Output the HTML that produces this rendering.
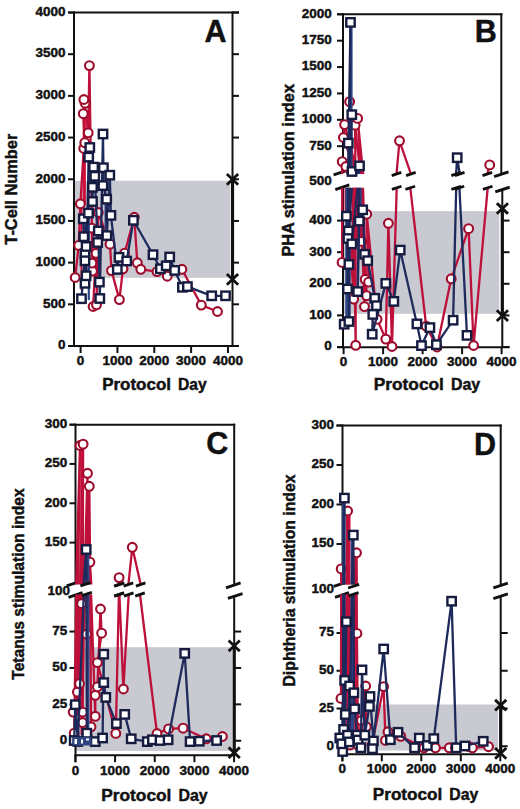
<!DOCTYPE html>
<html><head><meta charset="utf-8"><style>
html,body{margin:0;padding:0;background:#fff;width:520px;height:809px;overflow:hidden}
svg{display:block}
text{font-family:"Liberation Sans",sans-serif;font-weight:bold;fill:#111;stroke:#111;stroke-width:0.45px}
</style></head><body>
<svg width="520" height="809" viewBox="0 0 520 809">
<rect x="74.00" y="180.80" width="156.00" height="97.00" fill="#c9c9d2"/>
<rect x="343.00" y="211.10" width="156.20" height="102.70" fill="#c9c9d2"/>
<rect x="75.50" y="647.20" width="156.50" height="103.70" fill="#c9c9d2"/>
<rect x="342.50" y="704.50" width="155.50" height="46.00" fill="#c9c9d2"/>
<line x1="74.00" y1="11.50" x2="74.00" y2="347.00" stroke="#111" stroke-width="2" stroke-linecap="butt"/>
<line x1="68.00" y1="12.50" x2="239.00" y2="12.50" stroke="#111" stroke-width="2" stroke-linecap="butt"/>
<line x1="68.00" y1="346.00" x2="239.00" y2="346.00" stroke="#111" stroke-width="2" stroke-linecap="butt"/>
<line x1="232.50" y1="11.50" x2="232.50" y2="347.00" stroke="#111" stroke-width="2" stroke-linecap="butt"/>
<line x1="232.50" y1="179.40" x2="232.50" y2="279.40" stroke="#111" stroke-width="3.2" stroke-linecap="butt"/>
<line x1="68.00" y1="346.00" x2="74.00" y2="346.00" stroke="#111" stroke-width="2" stroke-linecap="butt"/>
<line x1="232.50" y1="346.00" x2="239.00" y2="346.00" stroke="#111" stroke-width="2" stroke-linecap="butt"/>
<text x="65.60" y="349.30" font-size="13.3" text-anchor="end" textLength="7.5" lengthAdjust="spacingAndGlyphs">0</text>
<line x1="68.00" y1="304.31" x2="74.00" y2="304.31" stroke="#111" stroke-width="2" stroke-linecap="butt"/>
<line x1="232.50" y1="304.31" x2="239.00" y2="304.31" stroke="#111" stroke-width="2" stroke-linecap="butt"/>
<text x="65.60" y="307.61" font-size="13.3" text-anchor="end" textLength="22.5" lengthAdjust="spacingAndGlyphs">500</text>
<line x1="68.00" y1="262.62" x2="74.00" y2="262.62" stroke="#111" stroke-width="2" stroke-linecap="butt"/>
<line x1="232.50" y1="262.62" x2="239.00" y2="262.62" stroke="#111" stroke-width="2" stroke-linecap="butt"/>
<text x="65.60" y="265.93" font-size="13.3" text-anchor="end" textLength="30.0" lengthAdjust="spacingAndGlyphs">1000</text>
<line x1="68.00" y1="220.94" x2="74.00" y2="220.94" stroke="#111" stroke-width="2" stroke-linecap="butt"/>
<line x1="232.50" y1="220.94" x2="239.00" y2="220.94" stroke="#111" stroke-width="2" stroke-linecap="butt"/>
<text x="65.60" y="224.24" font-size="13.3" text-anchor="end" textLength="30.0" lengthAdjust="spacingAndGlyphs">1500</text>
<line x1="68.00" y1="179.25" x2="74.00" y2="179.25" stroke="#111" stroke-width="2" stroke-linecap="butt"/>
<line x1="232.50" y1="179.25" x2="239.00" y2="179.25" stroke="#111" stroke-width="2" stroke-linecap="butt"/>
<text x="65.60" y="182.55" font-size="13.3" text-anchor="end" textLength="30.0" lengthAdjust="spacingAndGlyphs">2000</text>
<line x1="68.00" y1="137.56" x2="74.00" y2="137.56" stroke="#111" stroke-width="2" stroke-linecap="butt"/>
<line x1="232.50" y1="137.56" x2="239.00" y2="137.56" stroke="#111" stroke-width="2" stroke-linecap="butt"/>
<text x="65.60" y="140.86" font-size="13.3" text-anchor="end" textLength="30.0" lengthAdjust="spacingAndGlyphs">2500</text>
<line x1="68.00" y1="95.88" x2="74.00" y2="95.88" stroke="#111" stroke-width="2" stroke-linecap="butt"/>
<line x1="232.50" y1="95.88" x2="239.00" y2="95.88" stroke="#111" stroke-width="2" stroke-linecap="butt"/>
<text x="65.60" y="99.17" font-size="13.3" text-anchor="end" textLength="30.0" lengthAdjust="spacingAndGlyphs">3000</text>
<line x1="68.00" y1="54.19" x2="74.00" y2="54.19" stroke="#111" stroke-width="2" stroke-linecap="butt"/>
<line x1="232.50" y1="54.19" x2="239.00" y2="54.19" stroke="#111" stroke-width="2" stroke-linecap="butt"/>
<text x="65.60" y="57.49" font-size="13.3" text-anchor="end" textLength="30.0" lengthAdjust="spacingAndGlyphs">3500</text>
<line x1="68.00" y1="12.50" x2="74.00" y2="12.50" stroke="#111" stroke-width="2" stroke-linecap="butt"/>
<line x1="232.50" y1="12.50" x2="239.00" y2="12.50" stroke="#111" stroke-width="2" stroke-linecap="butt"/>
<text x="65.60" y="15.80" font-size="13.3" text-anchor="end" textLength="30.0" lengthAdjust="spacingAndGlyphs">4000</text>
<line x1="80.60" y1="346.00" x2="80.60" y2="353.00" stroke="#111" stroke-width="2" stroke-linecap="butt"/>
<text x="80.60" y="364.60" font-size="13.3" text-anchor="middle" textLength="7.5" lengthAdjust="spacingAndGlyphs">0</text>
<line x1="117.44" y1="346.00" x2="117.44" y2="353.00" stroke="#111" stroke-width="2" stroke-linecap="butt"/>
<text x="117.44" y="364.60" font-size="13.3" text-anchor="middle" textLength="30.0" lengthAdjust="spacingAndGlyphs">1000</text>
<line x1="154.28" y1="346.00" x2="154.28" y2="353.00" stroke="#111" stroke-width="2" stroke-linecap="butt"/>
<text x="154.28" y="364.60" font-size="13.3" text-anchor="middle" textLength="30.0" lengthAdjust="spacingAndGlyphs">2000</text>
<line x1="191.12" y1="346.00" x2="191.12" y2="353.00" stroke="#111" stroke-width="2" stroke-linecap="butt"/>
<text x="191.12" y="364.60" font-size="13.3" text-anchor="middle" textLength="30.0" lengthAdjust="spacingAndGlyphs">3000</text>
<line x1="227.96" y1="346.00" x2="227.96" y2="353.00" stroke="#111" stroke-width="2" stroke-linecap="butt"/>
<text x="227.96" y="364.60" font-size="13.3" text-anchor="middle" textLength="30.0" lengthAdjust="spacingAndGlyphs">4000</text>
<path d="M227.90 175.03L237.10 183.77M227.90 183.77L237.10 175.03" stroke="#111" stroke-width="2.8" fill="none" stroke-linecap="square"/>
<path d="M227.90 275.03L237.10 283.77M227.90 283.77L237.10 275.03" stroke="#111" stroke-width="2.8" fill="none" stroke-linecap="square"/>
<text x="102.20" y="390.40" font-size="16.3" text-anchor="start" textLength="68.8" lengthAdjust="spacingAndGlyphs">Protocol</text>
<text x="177.92" y="390.40" font-size="16.3" text-anchor="start" textLength="28.69" lengthAdjust="spacingAndGlyphs">Day</text>
<text x="17.20" y="189.20" font-size="16" text-anchor="middle" textLength="111" lengthAdjust="spacingAndGlyphs" transform="rotate(-90 17.20 189.20)">T-Cell Number</text>
<text x="215.40" y="41.60" font-size="30.5" text-anchor="middle">A</text>
<line x1="343.00" y1="13.30" x2="343.00" y2="173.00" stroke="#111" stroke-width="2" stroke-linecap="butt"/>
<line x1="343.00" y1="187.50" x2="343.00" y2="348.20" stroke="#111" stroke-width="2" stroke-linecap="butt"/>
<line x1="337.00" y1="14.30" x2="502.30" y2="14.30" stroke="#111" stroke-width="2" stroke-linecap="butt"/>
<line x1="337.00" y1="347.20" x2="509.50" y2="347.20" stroke="#111" stroke-width="2" stroke-linecap="butt"/>
<line x1="501.30" y1="13.30" x2="501.30" y2="174.20" stroke="#111" stroke-width="2" stroke-linecap="butt"/>
<line x1="502.30" y1="189.60" x2="502.30" y2="347.20" stroke="#111" stroke-width="2" stroke-linecap="butt"/>
<line x1="502.30" y1="208.50" x2="502.30" y2="315.60" stroke="#111" stroke-width="3.2" stroke-linecap="butt"/>
<line x1="337.00" y1="14.30" x2="343.00" y2="14.30" stroke="#111" stroke-width="2" stroke-linecap="butt"/>
<text x="331.80" y="17.60" font-size="13.3" text-anchor="end" textLength="30.0" lengthAdjust="spacingAndGlyphs">2000</text>
<line x1="337.00" y1="40.68" x2="343.00" y2="40.68" stroke="#111" stroke-width="2" stroke-linecap="butt"/>
<text x="331.80" y="43.98" font-size="13.3" text-anchor="end" textLength="30.0" lengthAdjust="spacingAndGlyphs">1750</text>
<line x1="337.00" y1="67.06" x2="343.00" y2="67.06" stroke="#111" stroke-width="2" stroke-linecap="butt"/>
<text x="331.80" y="70.36" font-size="13.3" text-anchor="end" textLength="30.0" lengthAdjust="spacingAndGlyphs">1500</text>
<line x1="337.00" y1="93.44" x2="343.00" y2="93.44" stroke="#111" stroke-width="2" stroke-linecap="butt"/>
<text x="331.80" y="96.74" font-size="13.3" text-anchor="end" textLength="30.0" lengthAdjust="spacingAndGlyphs">1250</text>
<line x1="337.00" y1="119.82" x2="343.00" y2="119.82" stroke="#111" stroke-width="2" stroke-linecap="butt"/>
<text x="331.80" y="123.12" font-size="13.3" text-anchor="end" textLength="30.0" lengthAdjust="spacingAndGlyphs">1000</text>
<line x1="337.00" y1="146.20" x2="343.00" y2="146.20" stroke="#111" stroke-width="2" stroke-linecap="butt"/>
<text x="331.80" y="149.50" font-size="13.3" text-anchor="end" textLength="22.5" lengthAdjust="spacingAndGlyphs">750</text>
<line x1="337.00" y1="220.60" x2="343.00" y2="220.60" stroke="#111" stroke-width="2" stroke-linecap="butt"/>
<line x1="502.30" y1="220.60" x2="509.50" y2="220.60" stroke="#111" stroke-width="2" stroke-linecap="butt"/>
<text x="331.80" y="223.90" font-size="13.3" text-anchor="end" textLength="22.5" lengthAdjust="spacingAndGlyphs">400</text>
<line x1="337.00" y1="252.20" x2="343.00" y2="252.20" stroke="#111" stroke-width="2" stroke-linecap="butt"/>
<line x1="502.30" y1="252.20" x2="509.50" y2="252.20" stroke="#111" stroke-width="2" stroke-linecap="butt"/>
<text x="331.80" y="255.50" font-size="13.3" text-anchor="end" textLength="22.5" lengthAdjust="spacingAndGlyphs">300</text>
<line x1="337.00" y1="283.80" x2="343.00" y2="283.80" stroke="#111" stroke-width="2" stroke-linecap="butt"/>
<line x1="502.30" y1="283.80" x2="509.50" y2="283.80" stroke="#111" stroke-width="2" stroke-linecap="butt"/>
<text x="331.80" y="287.10" font-size="13.3" text-anchor="end" textLength="22.5" lengthAdjust="spacingAndGlyphs">200</text>
<line x1="337.00" y1="315.40" x2="343.00" y2="315.40" stroke="#111" stroke-width="2" stroke-linecap="butt"/>
<line x1="502.30" y1="315.40" x2="509.50" y2="315.40" stroke="#111" stroke-width="2" stroke-linecap="butt"/>
<text x="331.80" y="318.70" font-size="13.3" text-anchor="end" textLength="22.5" lengthAdjust="spacingAndGlyphs">100</text>
<line x1="337.00" y1="347.00" x2="343.00" y2="347.00" stroke="#111" stroke-width="2" stroke-linecap="butt"/>
<line x1="502.30" y1="347.00" x2="509.50" y2="347.00" stroke="#111" stroke-width="2" stroke-linecap="butt"/>
<text x="331.80" y="350.30" font-size="13.3" text-anchor="end" textLength="7.5" lengthAdjust="spacingAndGlyphs">0</text>
<text x="331.80" y="184.80" font-size="13.3" text-anchor="end" textLength="22.5" lengthAdjust="spacingAndGlyphs">500</text>
<line x1="333.60" y1="174.88" x2="345.60" y2="170.92" stroke="#111" stroke-width="2.9"/>
<line x1="335.30" y1="189.61" x2="349.30" y2="184.99" stroke="#111" stroke-width="2.9"/>
<line x1="494.10" y1="176.58" x2="508.50" y2="171.82" stroke="#111" stroke-width="2.9"/>
<line x1="495.30" y1="191.98" x2="509.70" y2="187.22" stroke="#111" stroke-width="2.9"/>
<line x1="343.60" y1="347.20" x2="343.60" y2="354.20" stroke="#111" stroke-width="2" stroke-linecap="butt"/>
<text x="343.60" y="366.40" font-size="13.3" text-anchor="middle" textLength="7.5" lengthAdjust="spacingAndGlyphs">0</text>
<line x1="383.10" y1="347.20" x2="383.10" y2="354.20" stroke="#111" stroke-width="2" stroke-linecap="butt"/>
<text x="383.10" y="366.40" font-size="13.3" text-anchor="middle" textLength="30.0" lengthAdjust="spacingAndGlyphs">1000</text>
<line x1="422.60" y1="347.20" x2="422.60" y2="354.20" stroke="#111" stroke-width="2" stroke-linecap="butt"/>
<text x="422.60" y="366.40" font-size="13.3" text-anchor="middle" textLength="30.0" lengthAdjust="spacingAndGlyphs">2000</text>
<line x1="462.10" y1="347.20" x2="462.10" y2="354.20" stroke="#111" stroke-width="2" stroke-linecap="butt"/>
<text x="462.10" y="366.40" font-size="13.3" text-anchor="middle" textLength="30.0" lengthAdjust="spacingAndGlyphs">3000</text>
<line x1="501.60" y1="347.20" x2="501.60" y2="354.20" stroke="#111" stroke-width="2" stroke-linecap="butt"/>
<text x="501.60" y="366.40" font-size="13.3" text-anchor="middle" textLength="30.0" lengthAdjust="spacingAndGlyphs">4000</text>
<path d="M497.80 204.13L507.00 212.87M497.80 212.87L507.00 204.13" stroke="#111" stroke-width="2.8" fill="none" stroke-linecap="square"/>
<path d="M497.80 311.23L507.00 319.97M497.80 319.97L507.00 311.23" stroke="#111" stroke-width="2.8" fill="none" stroke-linecap="square"/>
<text x="373.80" y="390.30" font-size="16.3" text-anchor="start" textLength="70.1" lengthAdjust="spacingAndGlyphs">Protocol</text>
<text x="451.00" y="390.30" font-size="16.3" text-anchor="start" textLength="29.21" lengthAdjust="spacingAndGlyphs">Day</text>
<text x="294.20" y="170.30" font-size="16" text-anchor="middle" textLength="172.6" lengthAdjust="spacingAndGlyphs" transform="rotate(-90 294.20 170.30)">PHA stimulation index</text>
<text x="485.70" y="41.90" font-size="30.5" text-anchor="middle">B</text>
<line x1="75.50" y1="423.70" x2="75.50" y2="583.00" stroke="#111" stroke-width="2" stroke-linecap="butt"/>
<line x1="75.50" y1="595.00" x2="75.50" y2="762.20" stroke="#111" stroke-width="2" stroke-linecap="butt"/>
<line x1="69.50" y1="424.70" x2="235.20" y2="424.70" stroke="#111" stroke-width="2" stroke-linecap="butt"/>
<line x1="74.50" y1="755.20" x2="235.20" y2="755.20" stroke="#111" stroke-width="2" stroke-linecap="butt"/>
<line x1="234.20" y1="423.70" x2="234.20" y2="585.40" stroke="#111" stroke-width="2" stroke-linecap="butt"/>
<line x1="234.20" y1="596.00" x2="234.20" y2="755.20" stroke="#111" stroke-width="2" stroke-linecap="butt"/>
<line x1="234.20" y1="645.80" x2="234.20" y2="752.70" stroke="#111" stroke-width="3.2" stroke-linecap="butt"/>
<line x1="69.50" y1="424.60" x2="75.50" y2="424.60" stroke="#111" stroke-width="2" stroke-linecap="butt"/>
<text x="67.30" y="427.90" font-size="13.3" text-anchor="end" textLength="22.5" lengthAdjust="spacingAndGlyphs">300</text>
<line x1="69.50" y1="463.94" x2="75.50" y2="463.94" stroke="#111" stroke-width="2" stroke-linecap="butt"/>
<text x="67.30" y="467.24" font-size="13.3" text-anchor="end" textLength="22.5" lengthAdjust="spacingAndGlyphs">250</text>
<line x1="69.50" y1="503.27" x2="75.50" y2="503.27" stroke="#111" stroke-width="2" stroke-linecap="butt"/>
<text x="67.30" y="506.57" font-size="13.3" text-anchor="end" textLength="22.5" lengthAdjust="spacingAndGlyphs">200</text>
<line x1="69.50" y1="542.61" x2="75.50" y2="542.61" stroke="#111" stroke-width="2" stroke-linecap="butt"/>
<text x="67.30" y="545.90" font-size="13.3" text-anchor="end" textLength="22.5" lengthAdjust="spacingAndGlyphs">150</text>
<line x1="69.50" y1="631.55" x2="75.50" y2="631.55" stroke="#111" stroke-width="2" stroke-linecap="butt"/>
<line x1="234.20" y1="631.55" x2="241.20" y2="631.55" stroke="#111" stroke-width="2" stroke-linecap="butt"/>
<text x="67.30" y="634.85" font-size="13.3" text-anchor="end" textLength="15.0" lengthAdjust="spacingAndGlyphs">75</text>
<line x1="69.50" y1="667.95" x2="75.50" y2="667.95" stroke="#111" stroke-width="2" stroke-linecap="butt"/>
<line x1="234.20" y1="667.95" x2="241.20" y2="667.95" stroke="#111" stroke-width="2" stroke-linecap="butt"/>
<text x="67.30" y="671.25" font-size="13.3" text-anchor="end" textLength="15.0" lengthAdjust="spacingAndGlyphs">50</text>
<line x1="69.50" y1="704.35" x2="75.50" y2="704.35" stroke="#111" stroke-width="2" stroke-linecap="butt"/>
<line x1="234.20" y1="704.35" x2="241.20" y2="704.35" stroke="#111" stroke-width="2" stroke-linecap="butt"/>
<text x="67.30" y="707.65" font-size="13.3" text-anchor="end" textLength="15.0" lengthAdjust="spacingAndGlyphs">25</text>
<line x1="69.50" y1="740.75" x2="75.50" y2="740.75" stroke="#111" stroke-width="2" stroke-linecap="butt"/>
<line x1="234.20" y1="740.75" x2="241.20" y2="740.75" stroke="#111" stroke-width="2" stroke-linecap="butt"/>
<text x="67.30" y="744.05" font-size="13.3" text-anchor="end" textLength="7.5" lengthAdjust="spacingAndGlyphs">0</text>
<text x="69.90" y="594.80" font-size="13.3" text-anchor="end" textLength="22.5" lengthAdjust="spacingAndGlyphs">100</text>
<line x1="66.70" y1="585.78" x2="78.70" y2="581.82" stroke="#111" stroke-width="2.9"/>
<line x1="68.50" y1="597.31" x2="82.50" y2="592.69" stroke="#111" stroke-width="2.9"/>
<line x1="226.00" y1="587.81" x2="240.60" y2="582.99" stroke="#111" stroke-width="2.9"/>
<line x1="227.90" y1="598.41" x2="242.50" y2="593.59" stroke="#111" stroke-width="2.9"/>
<line x1="75.40" y1="755.20" x2="75.40" y2="762.20" stroke="#111" stroke-width="2" stroke-linecap="butt"/>
<text x="75.40" y="774.60" font-size="13.3" text-anchor="middle" textLength="7.5" lengthAdjust="spacingAndGlyphs">0</text>
<line x1="115.07" y1="755.20" x2="115.07" y2="762.20" stroke="#111" stroke-width="2" stroke-linecap="butt"/>
<text x="115.07" y="774.60" font-size="13.3" text-anchor="middle" textLength="30.0" lengthAdjust="spacingAndGlyphs">1000</text>
<line x1="154.74" y1="755.20" x2="154.74" y2="762.20" stroke="#111" stroke-width="2" stroke-linecap="butt"/>
<text x="154.74" y="774.60" font-size="13.3" text-anchor="middle" textLength="30.0" lengthAdjust="spacingAndGlyphs">2000</text>
<line x1="194.41" y1="755.20" x2="194.41" y2="762.20" stroke="#111" stroke-width="2" stroke-linecap="butt"/>
<text x="194.41" y="774.60" font-size="13.3" text-anchor="middle" textLength="30.0" lengthAdjust="spacingAndGlyphs">3000</text>
<line x1="234.08" y1="755.20" x2="234.08" y2="762.20" stroke="#111" stroke-width="2" stroke-linecap="butt"/>
<text x="234.08" y="774.60" font-size="13.3" text-anchor="middle" textLength="30.0" lengthAdjust="spacingAndGlyphs">4000</text>
<path d="M229.60 641.43L238.80 650.17M229.60 650.17L238.80 641.43" stroke="#111" stroke-width="2.8" fill="none" stroke-linecap="square"/>
<path d="M229.60 748.33L238.80 757.07M229.60 757.07L238.80 748.33" stroke="#111" stroke-width="2.8" fill="none" stroke-linecap="square"/>
<text x="101.30" y="801.30" font-size="16.3" text-anchor="start" textLength="70.1" lengthAdjust="spacingAndGlyphs">Protocol</text>
<text x="178.50" y="801.30" font-size="16.3" text-anchor="start" textLength="29.21" lengthAdjust="spacingAndGlyphs">Day</text>
<text x="23.60" y="584.00" font-size="16" text-anchor="middle" textLength="191.4" lengthAdjust="spacingAndGlyphs" transform="rotate(-90 23.60 584.00)">Tetanus stimulation index</text>
<text x="217.20" y="454.30" font-size="30.5" text-anchor="middle">C</text>
<line x1="342.50" y1="424.50" x2="342.50" y2="583.50" stroke="#111" stroke-width="2" stroke-linecap="butt"/>
<line x1="342.50" y1="595.00" x2="342.50" y2="761.30" stroke="#111" stroke-width="2" stroke-linecap="butt"/>
<line x1="336.50" y1="425.50" x2="501.70" y2="425.50" stroke="#111" stroke-width="2" stroke-linecap="butt"/>
<line x1="341.50" y1="754.30" x2="501.70" y2="754.30" stroke="#111" stroke-width="2" stroke-linecap="butt"/>
<line x1="500.70" y1="424.50" x2="500.70" y2="585.40" stroke="#111" stroke-width="2" stroke-linecap="butt"/>
<line x1="500.70" y1="596.30" x2="500.70" y2="754.30" stroke="#111" stroke-width="2" stroke-linecap="butt"/>
<line x1="500.70" y1="705.20" x2="500.70" y2="753.30" stroke="#111" stroke-width="3.2" stroke-linecap="butt"/>
<line x1="336.50" y1="425.50" x2="342.50" y2="425.50" stroke="#111" stroke-width="2" stroke-linecap="butt"/>
<text x="334.10" y="428.80" font-size="13.3" text-anchor="end" textLength="22.5" lengthAdjust="spacingAndGlyphs">300</text>
<line x1="336.50" y1="465.00" x2="342.50" y2="465.00" stroke="#111" stroke-width="2" stroke-linecap="butt"/>
<text x="334.10" y="468.30" font-size="13.3" text-anchor="end" textLength="22.5" lengthAdjust="spacingAndGlyphs">250</text>
<line x1="336.50" y1="504.50" x2="342.50" y2="504.50" stroke="#111" stroke-width="2" stroke-linecap="butt"/>
<text x="334.10" y="507.80" font-size="13.3" text-anchor="end" textLength="22.5" lengthAdjust="spacingAndGlyphs">200</text>
<line x1="336.50" y1="544.00" x2="342.50" y2="544.00" stroke="#111" stroke-width="2" stroke-linecap="butt"/>
<text x="334.10" y="547.30" font-size="13.3" text-anchor="end" textLength="22.5" lengthAdjust="spacingAndGlyphs">150</text>
<line x1="336.50" y1="633.00" x2="342.50" y2="633.00" stroke="#111" stroke-width="2" stroke-linecap="butt"/>
<line x1="500.70" y1="633.00" x2="507.70" y2="633.00" stroke="#111" stroke-width="2" stroke-linecap="butt"/>
<text x="334.10" y="636.30" font-size="13.3" text-anchor="end" textLength="15.0" lengthAdjust="spacingAndGlyphs">75</text>
<line x1="336.50" y1="670.75" x2="342.50" y2="670.75" stroke="#111" stroke-width="2" stroke-linecap="butt"/>
<line x1="500.70" y1="670.75" x2="507.70" y2="670.75" stroke="#111" stroke-width="2" stroke-linecap="butt"/>
<text x="334.10" y="674.05" font-size="13.3" text-anchor="end" textLength="15.0" lengthAdjust="spacingAndGlyphs">50</text>
<line x1="336.50" y1="708.50" x2="342.50" y2="708.50" stroke="#111" stroke-width="2" stroke-linecap="butt"/>
<line x1="500.70" y1="708.50" x2="507.70" y2="708.50" stroke="#111" stroke-width="2" stroke-linecap="butt"/>
<text x="334.10" y="711.80" font-size="13.3" text-anchor="end" textLength="15.0" lengthAdjust="spacingAndGlyphs">25</text>
<line x1="336.50" y1="746.25" x2="342.50" y2="746.25" stroke="#111" stroke-width="2" stroke-linecap="butt"/>
<line x1="500.70" y1="746.25" x2="507.70" y2="746.25" stroke="#111" stroke-width="2" stroke-linecap="butt"/>
<text x="334.10" y="749.55" font-size="13.3" text-anchor="end" textLength="7.5" lengthAdjust="spacingAndGlyphs">0</text>
<text x="334.10" y="593.10" font-size="13.3" text-anchor="end" textLength="22.5" lengthAdjust="spacingAndGlyphs">100</text>
<line x1="333.70" y1="586.35" x2="346.70" y2="582.06" stroke="#111" stroke-width="2.9"/>
<line x1="335.00" y1="597.31" x2="349.00" y2="592.69" stroke="#111" stroke-width="2.9"/>
<line x1="493.35" y1="587.79" x2="507.85" y2="583.01" stroke="#111" stroke-width="2.9"/>
<line x1="493.35" y1="598.69" x2="507.85" y2="593.91" stroke="#111" stroke-width="2.9"/>
<line x1="342.30" y1="754.30" x2="342.30" y2="761.30" stroke="#111" stroke-width="2" stroke-linecap="butt"/>
<text x="342.30" y="773.30" font-size="13.3" text-anchor="middle" textLength="7.5" lengthAdjust="spacingAndGlyphs">0</text>
<line x1="381.80" y1="754.30" x2="381.80" y2="761.30" stroke="#111" stroke-width="2" stroke-linecap="butt"/>
<text x="381.80" y="773.30" font-size="13.3" text-anchor="middle" textLength="30.0" lengthAdjust="spacingAndGlyphs">1000</text>
<line x1="421.30" y1="754.30" x2="421.30" y2="761.30" stroke="#111" stroke-width="2" stroke-linecap="butt"/>
<text x="421.30" y="773.30" font-size="13.3" text-anchor="middle" textLength="30.0" lengthAdjust="spacingAndGlyphs">2000</text>
<line x1="460.80" y1="754.30" x2="460.80" y2="761.30" stroke="#111" stroke-width="2" stroke-linecap="butt"/>
<text x="460.80" y="773.30" font-size="13.3" text-anchor="middle" textLength="30.0" lengthAdjust="spacingAndGlyphs">3000</text>
<line x1="500.30" y1="754.30" x2="500.30" y2="761.30" stroke="#111" stroke-width="2" stroke-linecap="butt"/>
<text x="500.30" y="773.30" font-size="13.3" text-anchor="middle" textLength="30.0" lengthAdjust="spacingAndGlyphs">4000</text>
<path d="M496.10 700.83L505.30 709.57M496.10 709.57L505.30 700.83" stroke="#111" stroke-width="2.8" fill="none" stroke-linecap="square"/>
<path d="M496.10 748.93L505.30 757.67M496.10 757.67L505.30 748.93" stroke="#111" stroke-width="2.8" fill="none" stroke-linecap="square"/>
<text x="372.80" y="799.50" font-size="16.3" text-anchor="start" textLength="69.52" lengthAdjust="spacingAndGlyphs">Protocol</text>
<text x="449.33" y="799.50" font-size="16.3" text-anchor="start" textLength="28.98" lengthAdjust="spacingAndGlyphs">Day</text>
<text x="295.20" y="580.50" font-size="16" text-anchor="middle" textLength="212" lengthAdjust="spacingAndGlyphs" transform="rotate(-90 295.20 580.50)">Diphtheria stimulation index</text>
<text x="484.90" y="454.90" font-size="30.5" text-anchor="middle">D</text>
<path d="M84.3 104V205" fill="none" stroke="#d2103f" stroke-width="3.2"/>
<path d="M81.5 205V290" fill="none" stroke="#d2103f" stroke-width="2"/>
<path d="M75.2 277.5L78.7 245.4L80.4 203.8L83.8 148.4L84.8 142.7L83.3 113.7L85.1 103.2L83.9 99.5L88.2 132.8L89.4 65.6L91.9 228.1L92.5 271.1L91.9 263.1L96.0 253.3L93.1 306.5L96.5 304.8L98.3 212.5L110.0 244.2L111.5 270.6L119.4 299.6L123.0 268.8L124.6 253.1L134.3 217.3L137.3 262.8L140.8 269.3L157.0 271.6L167.3 276.2L181.9 269.3L201.3 305.1L217.5 311.5" fill="none" stroke="#bd103a" stroke-width="2.3" stroke-linejoin="round"/>
<circle cx="75.2" cy="277.5" r="4.4" fill="#fff" stroke="#9e0c2c" stroke-width="2.1"/>
<circle cx="78.7" cy="245.4" r="4.4" fill="#fff" stroke="#9e0c2c" stroke-width="2.1"/>
<circle cx="80.4" cy="203.8" r="4.4" fill="#fff" stroke="#9e0c2c" stroke-width="2.1"/>
<circle cx="83.8" cy="148.4" r="4.4" fill="#fff" stroke="#9e0c2c" stroke-width="2.1"/>
<circle cx="84.8" cy="142.7" r="4.4" fill="#fff" stroke="#9e0c2c" stroke-width="2.1"/>
<circle cx="83.3" cy="113.7" r="4.4" fill="#fff" stroke="#9e0c2c" stroke-width="2.1"/>
<circle cx="85.1" cy="103.2" r="4.4" fill="#fff" stroke="#9e0c2c" stroke-width="2.1"/>
<circle cx="83.9" cy="99.5" r="4.4" fill="#fff" stroke="#9e0c2c" stroke-width="2.1"/>
<circle cx="88.2" cy="132.8" r="4.4" fill="#fff" stroke="#9e0c2c" stroke-width="2.1"/>
<circle cx="89.4" cy="65.6" r="4.4" fill="#fff" stroke="#9e0c2c" stroke-width="2.1"/>
<circle cx="91.9" cy="228.1" r="4.4" fill="#fff" stroke="#9e0c2c" stroke-width="2.1"/>
<circle cx="92.5" cy="271.1" r="4.4" fill="#fff" stroke="#9e0c2c" stroke-width="2.1"/>
<circle cx="91.9" cy="263.1" r="4.4" fill="#fff" stroke="#9e0c2c" stroke-width="2.1"/>
<circle cx="96.0" cy="253.3" r="4.4" fill="#fff" stroke="#9e0c2c" stroke-width="2.1"/>
<circle cx="93.1" cy="306.5" r="4.4" fill="#fff" stroke="#9e0c2c" stroke-width="2.1"/>
<circle cx="96.5" cy="304.8" r="4.4" fill="#fff" stroke="#9e0c2c" stroke-width="2.1"/>
<circle cx="98.3" cy="212.5" r="4.4" fill="#fff" stroke="#9e0c2c" stroke-width="2.1"/>
<circle cx="110.0" cy="244.2" r="4.4" fill="#fff" stroke="#9e0c2c" stroke-width="2.1"/>
<circle cx="111.5" cy="270.6" r="4.4" fill="#fff" stroke="#9e0c2c" stroke-width="2.1"/>
<circle cx="119.4" cy="299.6" r="4.4" fill="#fff" stroke="#9e0c2c" stroke-width="2.1"/>
<circle cx="123.0" cy="268.8" r="4.4" fill="#fff" stroke="#9e0c2c" stroke-width="2.1"/>
<circle cx="124.6" cy="253.1" r="4.4" fill="#fff" stroke="#9e0c2c" stroke-width="2.1"/>
<circle cx="134.3" cy="217.3" r="4.4" fill="#fff" stroke="#9e0c2c" stroke-width="2.1"/>
<circle cx="137.3" cy="262.8" r="4.4" fill="#fff" stroke="#9e0c2c" stroke-width="2.1"/>
<circle cx="140.8" cy="269.3" r="4.4" fill="#fff" stroke="#9e0c2c" stroke-width="2.1"/>
<circle cx="157.0" cy="271.6" r="4.4" fill="#fff" stroke="#9e0c2c" stroke-width="2.1"/>
<circle cx="167.3" cy="276.2" r="4.4" fill="#fff" stroke="#9e0c2c" stroke-width="2.1"/>
<circle cx="181.9" cy="269.3" r="4.4" fill="#fff" stroke="#9e0c2c" stroke-width="2.1"/>
<circle cx="201.3" cy="305.1" r="4.4" fill="#fff" stroke="#9e0c2c" stroke-width="2.1"/>
<circle cx="217.5" cy="311.5" r="4.4" fill="#fff" stroke="#9e0c2c" stroke-width="2.1"/>
<path d="M88.8 150V300" fill="none" stroke="#2f4686" stroke-width="2.2"/>
<path d="M105.5 170V240" fill="none" stroke="#2f4686" stroke-width="2"/>
<path d="M81.5 298.7L85.0 253.8L83.3 218.8L85.0 283.3L86.1 246.5L88.5 213.1L83.8 236.7L85.0 260.8L86.1 275.8L88.7 157.1L89.8 147.5L92.5 201.5L93.6 167.1L92.5 187.3L94.8 176.3L97.7 242.5L98.3 231.0L99.4 282.1L99.8 298.5L103.0 134.0L103.4 167.7L102.9 185.6L106.7 199.2L106.9 235.6L109.8 175.2L110.9 215.4L117.3 269.4L119.0 257.3L126.7 261.0L133.4 220.3L153.0 254.7L160.4 268.8L166.2 265.8L169.7 257.0L174.7 270.4L182.4 287.3L187.4 286.6L211.7 295.8L225.5 295.8" fill="none" stroke="#1e2a5c" stroke-width="2.3" stroke-linejoin="round"/>
<rect x="77.3" y="294.5" width="8.4" height="8.4" fill="#fff" stroke="#161c40" stroke-width="2.4"/>
<rect x="80.8" y="249.6" width="8.4" height="8.4" fill="#fff" stroke="#161c40" stroke-width="2.4"/>
<rect x="79.1" y="214.6" width="8.4" height="8.4" fill="#fff" stroke="#161c40" stroke-width="2.4"/>
<rect x="80.8" y="279.1" width="8.4" height="8.4" fill="#fff" stroke="#161c40" stroke-width="2.4"/>
<rect x="81.9" y="242.3" width="8.4" height="8.4" fill="#fff" stroke="#161c40" stroke-width="2.4"/>
<rect x="84.3" y="208.9" width="8.4" height="8.4" fill="#fff" stroke="#161c40" stroke-width="2.4"/>
<rect x="79.6" y="232.5" width="8.4" height="8.4" fill="#fff" stroke="#161c40" stroke-width="2.4"/>
<rect x="80.8" y="256.6" width="8.4" height="8.4" fill="#fff" stroke="#161c40" stroke-width="2.4"/>
<rect x="81.9" y="271.6" width="8.4" height="8.4" fill="#fff" stroke="#161c40" stroke-width="2.4"/>
<rect x="84.5" y="152.9" width="8.4" height="8.4" fill="#fff" stroke="#161c40" stroke-width="2.4"/>
<rect x="85.6" y="143.3" width="8.4" height="8.4" fill="#fff" stroke="#161c40" stroke-width="2.4"/>
<rect x="88.3" y="197.3" width="8.4" height="8.4" fill="#fff" stroke="#161c40" stroke-width="2.4"/>
<rect x="89.4" y="162.9" width="8.4" height="8.4" fill="#fff" stroke="#161c40" stroke-width="2.4"/>
<rect x="88.3" y="183.1" width="8.4" height="8.4" fill="#fff" stroke="#161c40" stroke-width="2.4"/>
<rect x="90.6" y="172.1" width="8.4" height="8.4" fill="#fff" stroke="#161c40" stroke-width="2.4"/>
<rect x="93.5" y="238.3" width="8.4" height="8.4" fill="#fff" stroke="#161c40" stroke-width="2.4"/>
<rect x="94.1" y="226.8" width="8.4" height="8.4" fill="#fff" stroke="#161c40" stroke-width="2.4"/>
<rect x="95.2" y="277.9" width="8.4" height="8.4" fill="#fff" stroke="#161c40" stroke-width="2.4"/>
<rect x="95.6" y="294.3" width="8.4" height="8.4" fill="#fff" stroke="#161c40" stroke-width="2.4"/>
<rect x="98.8" y="129.8" width="8.4" height="8.4" fill="#fff" stroke="#161c40" stroke-width="2.4"/>
<rect x="99.2" y="163.5" width="8.4" height="8.4" fill="#fff" stroke="#161c40" stroke-width="2.4"/>
<rect x="98.7" y="181.4" width="8.4" height="8.4" fill="#fff" stroke="#161c40" stroke-width="2.4"/>
<rect x="102.5" y="195.0" width="8.4" height="8.4" fill="#fff" stroke="#161c40" stroke-width="2.4"/>
<rect x="102.7" y="231.4" width="8.4" height="8.4" fill="#fff" stroke="#161c40" stroke-width="2.4"/>
<rect x="105.6" y="171.0" width="8.4" height="8.4" fill="#fff" stroke="#161c40" stroke-width="2.4"/>
<rect x="106.7" y="211.2" width="8.4" height="8.4" fill="#fff" stroke="#161c40" stroke-width="2.4"/>
<rect x="113.1" y="265.2" width="8.4" height="8.4" fill="#fff" stroke="#161c40" stroke-width="2.4"/>
<rect x="114.8" y="253.1" width="8.4" height="8.4" fill="#fff" stroke="#161c40" stroke-width="2.4"/>
<rect x="122.5" y="256.8" width="8.4" height="8.4" fill="#fff" stroke="#161c40" stroke-width="2.4"/>
<rect x="129.2" y="216.1" width="8.4" height="8.4" fill="#fff" stroke="#161c40" stroke-width="2.4"/>
<rect x="148.8" y="250.5" width="8.4" height="8.4" fill="#fff" stroke="#161c40" stroke-width="2.4"/>
<rect x="156.2" y="264.6" width="8.4" height="8.4" fill="#fff" stroke="#161c40" stroke-width="2.4"/>
<rect x="162.0" y="261.6" width="8.4" height="8.4" fill="#fff" stroke="#161c40" stroke-width="2.4"/>
<rect x="165.5" y="252.8" width="8.4" height="8.4" fill="#fff" stroke="#161c40" stroke-width="2.4"/>
<rect x="170.5" y="266.2" width="8.4" height="8.4" fill="#fff" stroke="#161c40" stroke-width="2.4"/>
<rect x="178.2" y="283.1" width="8.4" height="8.4" fill="#fff" stroke="#161c40" stroke-width="2.4"/>
<rect x="183.2" y="282.4" width="8.4" height="8.4" fill="#fff" stroke="#161c40" stroke-width="2.4"/>
<rect x="207.5" y="291.6" width="8.4" height="8.4" fill="#fff" stroke="#161c40" stroke-width="2.4"/>
<rect x="221.3" y="291.6" width="8.4" height="8.4" fill="#fff" stroke="#161c40" stroke-width="2.4"/>
<path d="M353.7 187.8V300" fill="none" stroke="#d2103f" stroke-width="3"/>
<path d="M357 187.8V240" fill="none" stroke="#d2103f" stroke-width="2.5"/>
<path d="M345.5 187.8V215" fill="none" stroke="#d2103f" stroke-width="2"/>
<path d="M342.1 262.4L342.2 187.8M342.2 174.0L342.2 161.6L345.9 166.5L347.3 174.0M346.9 187.8L353.7 299.1L352.3 187.8M352.4 174.0L349.6 101.7L353.2 174.0M353.1 187.8L355.7 345.3L355.4 187.8M355.4 174.0L355.1 125.2L360.4 174.0M360.2 187.8L364.5 306.6L361.6 187.8M361.7 174.0L357.6 118.4L363.2 174.0M363.0 187.8L366.6 295.7L357.1 187.8M357.6 174.0L344.6 124.6L343.4 137.5L356.1 174.0M355.5 187.8L361.7 241.4L365.2 279.4L368.6 282.1L366.7 214.2L377.1 319.3L385.8 339.1L388.4 223.3L392.0 346.5L396.7 187.8M396.5 174.0L399.5 140.8L410.9 174.0M410.3 187.8L426.2 326.2L437.0 347.0L451.2 278.8L468.6 228.7L473.6 345.5L487.7 187.8M487.3 174.0L489.7 164.9" fill="none" stroke="#bd103a" stroke-width="2.3" stroke-linejoin="round"/>
<line x1="391.7" y1="175.6" x2="401.3" y2="172.4" stroke="#111" stroke-width="2.7"/>
<line x1="391.9" y1="189.4" x2="401.5" y2="186.2" stroke="#111" stroke-width="2.7"/>
<line x1="406.1" y1="175.6" x2="415.7" y2="172.4" stroke="#111" stroke-width="2.7"/>
<line x1="405.5" y1="189.4" x2="415.1" y2="186.2" stroke="#111" stroke-width="2.7"/>
<line x1="482.5" y1="175.6" x2="492.1" y2="172.4" stroke="#111" stroke-width="2.7"/>
<line x1="482.9" y1="189.4" x2="492.5" y2="186.2" stroke="#111" stroke-width="2.7"/>
<circle cx="342.1" cy="262.4" r="4.4" fill="#fff" stroke="#9e0c2c" stroke-width="2.1"/>
<circle cx="342.2" cy="161.6" r="4.4" fill="#fff" stroke="#9e0c2c" stroke-width="2.1"/>
<circle cx="345.9" cy="166.5" r="4.4" fill="#fff" stroke="#9e0c2c" stroke-width="2.1"/>
<circle cx="353.7" cy="299.1" r="4.4" fill="#fff" stroke="#9e0c2c" stroke-width="2.1"/>
<circle cx="349.6" cy="101.7" r="4.4" fill="#fff" stroke="#9e0c2c" stroke-width="2.1"/>
<circle cx="355.7" cy="345.3" r="4.4" fill="#fff" stroke="#9e0c2c" stroke-width="2.1"/>
<circle cx="355.1" cy="125.2" r="4.4" fill="#fff" stroke="#9e0c2c" stroke-width="2.1"/>
<circle cx="364.5" cy="306.6" r="4.4" fill="#fff" stroke="#9e0c2c" stroke-width="2.1"/>
<circle cx="357.6" cy="118.4" r="4.4" fill="#fff" stroke="#9e0c2c" stroke-width="2.1"/>
<circle cx="366.6" cy="295.7" r="4.4" fill="#fff" stroke="#9e0c2c" stroke-width="2.1"/>
<circle cx="344.6" cy="124.6" r="4.4" fill="#fff" stroke="#9e0c2c" stroke-width="2.1"/>
<circle cx="343.4" cy="137.5" r="4.4" fill="#fff" stroke="#9e0c2c" stroke-width="2.1"/>
<circle cx="361.7" cy="241.4" r="4.4" fill="#fff" stroke="#9e0c2c" stroke-width="2.1"/>
<circle cx="365.2" cy="279.4" r="4.4" fill="#fff" stroke="#9e0c2c" stroke-width="2.1"/>
<circle cx="368.6" cy="282.1" r="4.4" fill="#fff" stroke="#9e0c2c" stroke-width="2.1"/>
<circle cx="366.7" cy="214.2" r="4.4" fill="#fff" stroke="#9e0c2c" stroke-width="2.1"/>
<circle cx="377.1" cy="319.3" r="4.4" fill="#fff" stroke="#9e0c2c" stroke-width="2.1"/>
<circle cx="385.8" cy="339.1" r="4.4" fill="#fff" stroke="#9e0c2c" stroke-width="2.1"/>
<circle cx="388.4" cy="223.3" r="4.4" fill="#fff" stroke="#9e0c2c" stroke-width="2.1"/>
<circle cx="392.0" cy="346.5" r="4.4" fill="#fff" stroke="#9e0c2c" stroke-width="2.1"/>
<circle cx="399.5" cy="140.8" r="4.4" fill="#fff" stroke="#9e0c2c" stroke-width="2.1"/>
<circle cx="426.2" cy="326.2" r="4.4" fill="#fff" stroke="#9e0c2c" stroke-width="2.1"/>
<circle cx="437.0" cy="347.0" r="4.4" fill="#fff" stroke="#9e0c2c" stroke-width="2.1"/>
<circle cx="451.2" cy="278.8" r="4.4" fill="#fff" stroke="#9e0c2c" stroke-width="2.1"/>
<circle cx="468.6" cy="228.7" r="4.4" fill="#fff" stroke="#9e0c2c" stroke-width="2.1"/>
<circle cx="473.6" cy="345.5" r="4.4" fill="#fff" stroke="#9e0c2c" stroke-width="2.1"/>
<circle cx="489.7" cy="164.9" r="4.4" fill="#fff" stroke="#9e0c2c" stroke-width="2.1"/>
<path d="M348 187.8V325" fill="none" stroke="#2f4686" stroke-width="5.5"/>
<path d="M360.5 187.8V215" fill="none" stroke="#2f4686" stroke-width="2.5"/>
<path d="M350.8 27V174" fill="none" stroke="#2f4686" stroke-width="3.6"/>
<path d="M344.2 324.2L348.9 321.5L349.3 187.8M349.3 174.0L350.5 22.4L348.0 174.0M348.1 187.8L347.5 289.0L349.1 187.8M349.0 174.0L351.8 114.7L349.7 174.0M349.8 187.8L348.9 264.5L348.6 187.8M348.6 174.0L348.3 143.1L348.4 174.0M348.4 187.8L348.4 231.0L351.8 187.8M351.4 174.0L352.0 171.5L351.4 174.0M351.8 187.8L347.9 238.5L346.4 216.2L351.8 243.9L357.6 187.8M357.0 174.0L359.5 165.9L359.1 174.0M359.2 187.8L357.7 291.6L359.3 221.1L362.7 209.8L364.7 254.3L367.7 260.7L374.7 298.3L376.5 305.7L372.8 314.4L372.2 334.2L385.8 283.4L393.8 301.4L400.2 250.1L416.9 323.9L421.5 345.6L429.9 327.6L436.4 344.7L453.1 320.2L456.2 187.8M456.1 174.0L457.2 157.7L459.7 174.0M459.4 187.8L467.0 335.4" fill="none" stroke="#1e2a5c" stroke-width="2.3" stroke-linejoin="round"/>
<line x1="451.3" y1="175.6" x2="460.9" y2="172.4" stroke="#111" stroke-width="2.7"/>
<line x1="451.4" y1="189.4" x2="461.0" y2="186.2" stroke="#111" stroke-width="2.7"/>
<line x1="454.9" y1="175.6" x2="464.5" y2="172.4" stroke="#111" stroke-width="2.7"/>
<line x1="454.6" y1="189.4" x2="464.2" y2="186.2" stroke="#111" stroke-width="2.7"/>
<rect x="340.0" y="320.0" width="8.4" height="8.4" fill="#fff" stroke="#161c40" stroke-width="2.4"/>
<rect x="344.7" y="317.3" width="8.4" height="8.4" fill="#fff" stroke="#161c40" stroke-width="2.4"/>
<rect x="346.3" y="18.2" width="8.4" height="8.4" fill="#fff" stroke="#161c40" stroke-width="2.4"/>
<rect x="343.3" y="284.8" width="8.4" height="8.4" fill="#fff" stroke="#161c40" stroke-width="2.4"/>
<rect x="347.6" y="110.5" width="8.4" height="8.4" fill="#fff" stroke="#161c40" stroke-width="2.4"/>
<rect x="344.7" y="260.3" width="8.4" height="8.4" fill="#fff" stroke="#161c40" stroke-width="2.4"/>
<rect x="344.1" y="138.9" width="8.4" height="8.4" fill="#fff" stroke="#161c40" stroke-width="2.4"/>
<rect x="344.2" y="226.8" width="8.4" height="8.4" fill="#fff" stroke="#161c40" stroke-width="2.4"/>
<rect x="347.8" y="167.3" width="8.4" height="8.4" fill="#fff" stroke="#161c40" stroke-width="2.4"/>
<rect x="343.7" y="234.3" width="8.4" height="8.4" fill="#fff" stroke="#161c40" stroke-width="2.4"/>
<rect x="342.2" y="212.0" width="8.4" height="8.4" fill="#fff" stroke="#161c40" stroke-width="2.4"/>
<rect x="347.6" y="239.7" width="8.4" height="8.4" fill="#fff" stroke="#161c40" stroke-width="2.4"/>
<rect x="355.3" y="161.7" width="8.4" height="8.4" fill="#fff" stroke="#161c40" stroke-width="2.4"/>
<rect x="353.5" y="287.4" width="8.4" height="8.4" fill="#fff" stroke="#161c40" stroke-width="2.4"/>
<rect x="355.1" y="216.9" width="8.4" height="8.4" fill="#fff" stroke="#161c40" stroke-width="2.4"/>
<rect x="358.5" y="205.6" width="8.4" height="8.4" fill="#fff" stroke="#161c40" stroke-width="2.4"/>
<rect x="360.5" y="250.1" width="8.4" height="8.4" fill="#fff" stroke="#161c40" stroke-width="2.4"/>
<rect x="363.5" y="256.5" width="8.4" height="8.4" fill="#fff" stroke="#161c40" stroke-width="2.4"/>
<rect x="370.5" y="294.1" width="8.4" height="8.4" fill="#fff" stroke="#161c40" stroke-width="2.4"/>
<rect x="372.3" y="301.5" width="8.4" height="8.4" fill="#fff" stroke="#161c40" stroke-width="2.4"/>
<rect x="368.6" y="310.2" width="8.4" height="8.4" fill="#fff" stroke="#161c40" stroke-width="2.4"/>
<rect x="368.0" y="330.0" width="8.4" height="8.4" fill="#fff" stroke="#161c40" stroke-width="2.4"/>
<rect x="381.6" y="279.2" width="8.4" height="8.4" fill="#fff" stroke="#161c40" stroke-width="2.4"/>
<rect x="389.6" y="297.2" width="8.4" height="8.4" fill="#fff" stroke="#161c40" stroke-width="2.4"/>
<rect x="396.0" y="245.9" width="8.4" height="8.4" fill="#fff" stroke="#161c40" stroke-width="2.4"/>
<rect x="412.7" y="319.7" width="8.4" height="8.4" fill="#fff" stroke="#161c40" stroke-width="2.4"/>
<rect x="417.3" y="341.4" width="8.4" height="8.4" fill="#fff" stroke="#161c40" stroke-width="2.4"/>
<rect x="425.7" y="323.4" width="8.4" height="8.4" fill="#fff" stroke="#161c40" stroke-width="2.4"/>
<rect x="432.2" y="340.5" width="8.4" height="8.4" fill="#fff" stroke="#161c40" stroke-width="2.4"/>
<rect x="448.9" y="316.0" width="8.4" height="8.4" fill="#fff" stroke="#161c40" stroke-width="2.4"/>
<rect x="453.0" y="153.5" width="8.4" height="8.4" fill="#fff" stroke="#161c40" stroke-width="2.4"/>
<rect x="462.8" y="331.2" width="8.4" height="8.4" fill="#fff" stroke="#161c40" stroke-width="2.4"/>
<path d="M81.8 446V584.5M82 594.5V735" fill="none" stroke="#d2103f" stroke-width="3.0"/>
<path d="M73.2 712.1L77.4 692.1L78.1 594.5M78.1 584.5L80.0 445.5L76.2 584.5M76.3 594.5L74.2 733.2L79.5 683.7L80.4 594.5M80.4 584.5L83.1 444.2L82.8 584.5M82.8 594.5L82.6 722.6L81.6 603.7L82.6 712.1L84.4 594.5M84.3 584.5L87.5 473.3L86.9 584.5M86.9 594.5L86.8 634.2L87.3 594.5M87.2 584.5L89.3 486.3L90.3 584.5M90.3 594.5L91.0 726.8L90.1 594.5M90.2 584.5L89.9 562.1L91.3 584.5M91.1 594.5L95.3 716.3L95.3 695.3L97.4 686.8L100.5 609.0L101.6 633.2L97.4 662.6L115.8 733.4L118.9 594.5M118.8 584.5L119.1 577.6L119.6 584.5M119.4 594.5L123.4 689.0L128.7 594.5M128.4 584.5L132.3 547.3L140.7 584.5M140.0 594.5L157.0 733.5L168.6 728.9L183.1 728.2L206.2 738.8L222.4 736.5" fill="none" stroke="#bd103a" stroke-width="2.3" stroke-linejoin="round"/>
<line x1="114.0" y1="586.1" x2="123.6" y2="582.9" stroke="#111" stroke-width="2.7"/>
<line x1="114.1" y1="596.1" x2="123.7" y2="592.9" stroke="#111" stroke-width="2.7"/>
<line x1="114.8" y1="586.1" x2="124.4" y2="582.9" stroke="#111" stroke-width="2.7"/>
<line x1="114.6" y1="596.1" x2="124.2" y2="592.9" stroke="#111" stroke-width="2.7"/>
<line x1="123.6" y1="586.1" x2="133.2" y2="582.9" stroke="#111" stroke-width="2.7"/>
<line x1="123.9" y1="596.1" x2="133.5" y2="592.9" stroke="#111" stroke-width="2.7"/>
<line x1="135.9" y1="586.1" x2="145.5" y2="582.9" stroke="#111" stroke-width="2.7"/>
<line x1="135.2" y1="596.1" x2="144.8" y2="592.9" stroke="#111" stroke-width="2.7"/>
<circle cx="73.2" cy="712.1" r="4.4" fill="#fff" stroke="#9e0c2c" stroke-width="2.1"/>
<circle cx="77.4" cy="692.1" r="4.4" fill="#fff" stroke="#9e0c2c" stroke-width="2.1"/>
<circle cx="80.0" cy="445.5" r="4.4" fill="#fff" stroke="#9e0c2c" stroke-width="2.1"/>
<circle cx="74.2" cy="733.2" r="4.4" fill="#fff" stroke="#9e0c2c" stroke-width="2.1"/>
<circle cx="79.5" cy="683.7" r="4.4" fill="#fff" stroke="#9e0c2c" stroke-width="2.1"/>
<circle cx="83.1" cy="444.2" r="4.4" fill="#fff" stroke="#9e0c2c" stroke-width="2.1"/>
<circle cx="82.6" cy="722.6" r="4.4" fill="#fff" stroke="#9e0c2c" stroke-width="2.1"/>
<circle cx="81.6" cy="603.7" r="4.4" fill="#fff" stroke="#9e0c2c" stroke-width="2.1"/>
<circle cx="82.6" cy="712.1" r="4.4" fill="#fff" stroke="#9e0c2c" stroke-width="2.1"/>
<circle cx="87.5" cy="473.3" r="4.4" fill="#fff" stroke="#9e0c2c" stroke-width="2.1"/>
<circle cx="86.8" cy="634.2" r="4.4" fill="#fff" stroke="#9e0c2c" stroke-width="2.1"/>
<circle cx="89.3" cy="486.3" r="4.4" fill="#fff" stroke="#9e0c2c" stroke-width="2.1"/>
<circle cx="91.0" cy="726.8" r="4.4" fill="#fff" stroke="#9e0c2c" stroke-width="2.1"/>
<circle cx="89.9" cy="562.1" r="4.4" fill="#fff" stroke="#9e0c2c" stroke-width="2.1"/>
<circle cx="95.3" cy="716.3" r="4.4" fill="#fff" stroke="#9e0c2c" stroke-width="2.1"/>
<circle cx="95.3" cy="695.3" r="4.4" fill="#fff" stroke="#9e0c2c" stroke-width="2.1"/>
<circle cx="97.4" cy="686.8" r="4.4" fill="#fff" stroke="#9e0c2c" stroke-width="2.1"/>
<circle cx="100.5" cy="609.0" r="4.4" fill="#fff" stroke="#9e0c2c" stroke-width="2.1"/>
<circle cx="101.6" cy="633.2" r="4.4" fill="#fff" stroke="#9e0c2c" stroke-width="2.1"/>
<circle cx="97.4" cy="662.6" r="4.4" fill="#fff" stroke="#9e0c2c" stroke-width="2.1"/>
<circle cx="115.8" cy="733.4" r="4.4" fill="#fff" stroke="#9e0c2c" stroke-width="2.1"/>
<circle cx="119.1" cy="577.6" r="4.4" fill="#fff" stroke="#9e0c2c" stroke-width="2.1"/>
<circle cx="123.4" cy="689.0" r="4.4" fill="#fff" stroke="#9e0c2c" stroke-width="2.1"/>
<circle cx="132.3" cy="547.3" r="4.4" fill="#fff" stroke="#9e0c2c" stroke-width="2.1"/>
<circle cx="157.0" cy="733.5" r="4.4" fill="#fff" stroke="#9e0c2c" stroke-width="2.1"/>
<circle cx="168.6" cy="728.9" r="4.4" fill="#fff" stroke="#9e0c2c" stroke-width="2.1"/>
<circle cx="183.1" cy="728.2" r="4.4" fill="#fff" stroke="#9e0c2c" stroke-width="2.1"/>
<circle cx="206.2" cy="738.8" r="4.4" fill="#fff" stroke="#9e0c2c" stroke-width="2.1"/>
<circle cx="222.4" cy="736.5" r="4.4" fill="#fff" stroke="#9e0c2c" stroke-width="2.1"/>
<path d="M87.6 549.5V584.5M87.6 594.5V740" fill="none" stroke="#2f4686" stroke-width="3.5"/>
<path d="M74.2 740.5L75.3 704.7L77.8 741.5L83.8 594.5M83.6 584.5L86.2 549.5L86.5 584.5M86.4 594.5L87.0 739.2L86.8 733.2L95.3 741.6L102.6 738.0L103.7 654.2L103.7 682.6L105.8 697.4L116.4 723.6L124.7 714.4L131.2 738.8L147.3 741.6L152.4 739.8L160.0 740.5L168.1 739.8L184.7 653.4L190.1 741.6L199.3 741.2L216.6 740.5" fill="none" stroke="#1e2a5c" stroke-width="2.3" stroke-linejoin="round"/>
<rect x="70.0" y="736.3" width="8.4" height="8.4" fill="#fff" stroke="#161c40" stroke-width="2.4"/>
<rect x="71.1" y="700.5" width="8.4" height="8.4" fill="#fff" stroke="#161c40" stroke-width="2.4"/>
<rect x="73.6" y="737.3" width="8.4" height="8.4" fill="#fff" stroke="#161c40" stroke-width="2.4"/>
<rect x="82.0" y="545.3" width="8.4" height="8.4" fill="#fff" stroke="#161c40" stroke-width="2.4"/>
<rect x="82.8" y="735.0" width="8.4" height="8.4" fill="#fff" stroke="#161c40" stroke-width="2.4"/>
<rect x="82.6" y="729.0" width="8.4" height="8.4" fill="#fff" stroke="#161c40" stroke-width="2.4"/>
<rect x="91.1" y="737.4" width="8.4" height="8.4" fill="#fff" stroke="#161c40" stroke-width="2.4"/>
<rect x="98.4" y="733.8" width="8.4" height="8.4" fill="#fff" stroke="#161c40" stroke-width="2.4"/>
<rect x="99.5" y="650.0" width="8.4" height="8.4" fill="#fff" stroke="#161c40" stroke-width="2.4"/>
<rect x="99.5" y="678.4" width="8.4" height="8.4" fill="#fff" stroke="#161c40" stroke-width="2.4"/>
<rect x="101.6" y="693.2" width="8.4" height="8.4" fill="#fff" stroke="#161c40" stroke-width="2.4"/>
<rect x="112.2" y="719.4" width="8.4" height="8.4" fill="#fff" stroke="#161c40" stroke-width="2.4"/>
<rect x="120.5" y="710.2" width="8.4" height="8.4" fill="#fff" stroke="#161c40" stroke-width="2.4"/>
<rect x="127.0" y="734.6" width="8.4" height="8.4" fill="#fff" stroke="#161c40" stroke-width="2.4"/>
<rect x="143.1" y="737.4" width="8.4" height="8.4" fill="#fff" stroke="#161c40" stroke-width="2.4"/>
<rect x="148.2" y="735.6" width="8.4" height="8.4" fill="#fff" stroke="#161c40" stroke-width="2.4"/>
<rect x="155.8" y="736.3" width="8.4" height="8.4" fill="#fff" stroke="#161c40" stroke-width="2.4"/>
<rect x="163.9" y="735.6" width="8.4" height="8.4" fill="#fff" stroke="#161c40" stroke-width="2.4"/>
<rect x="180.5" y="649.2" width="8.4" height="8.4" fill="#fff" stroke="#161c40" stroke-width="2.4"/>
<rect x="185.9" y="737.4" width="8.4" height="8.4" fill="#fff" stroke="#161c40" stroke-width="2.4"/>
<rect x="195.1" y="737.0" width="8.4" height="8.4" fill="#fff" stroke="#161c40" stroke-width="2.4"/>
<rect x="212.4" y="736.3" width="8.4" height="8.4" fill="#fff" stroke="#161c40" stroke-width="2.4"/>
<path d="M348.3 511V584.5M348.5 594.6V740" fill="none" stroke="#d2103f" stroke-width="4.5"/>
<path d="M355.6 553V584.5M355.6 594.6V735" fill="none" stroke="#d2103f" stroke-width="3"/>
<path d="M341.0 698.4L341.2 594.6M341.2 584.5L341.2 568.9L341.9 584.5M341.8 594.6L345.0 740.0L346.3 594.6M346.3 584.5L347.6 511.0L348.8 584.5M348.7 594.6L350.0 745.0L354.7 594.6M354.6 584.5L356.5 552.8L356.8 584.5M356.7 594.6L356.9 633.4L358.0 745.0L361.4 720.6L365.7 686.0L366.3 726.8L372.0 745.0L383.6 686.6L385.5 740.4L388.0 731.8L400.8 736.3L423.9 747.8L435.4 747.8L449.3 747.8L455.4 747.7L468.0 746.2L472.4 747.8L488.5 746.7" fill="none" stroke="#bd103a" stroke-width="2.3" stroke-linejoin="round"/>
<circle cx="341.0" cy="698.4" r="4.4" fill="#fff" stroke="#9e0c2c" stroke-width="2.1"/>
<circle cx="341.2" cy="568.9" r="4.4" fill="#fff" stroke="#9e0c2c" stroke-width="2.1"/>
<circle cx="345.0" cy="740.0" r="4.4" fill="#fff" stroke="#9e0c2c" stroke-width="2.1"/>
<circle cx="347.6" cy="511.0" r="4.4" fill="#fff" stroke="#9e0c2c" stroke-width="2.1"/>
<circle cx="350.0" cy="745.0" r="4.4" fill="#fff" stroke="#9e0c2c" stroke-width="2.1"/>
<circle cx="356.5" cy="552.8" r="4.4" fill="#fff" stroke="#9e0c2c" stroke-width="2.1"/>
<circle cx="356.9" cy="633.4" r="4.4" fill="#fff" stroke="#9e0c2c" stroke-width="2.1"/>
<circle cx="358.0" cy="745.0" r="4.4" fill="#fff" stroke="#9e0c2c" stroke-width="2.1"/>
<circle cx="361.4" cy="720.6" r="4.4" fill="#fff" stroke="#9e0c2c" stroke-width="2.1"/>
<circle cx="365.7" cy="686.0" r="4.4" fill="#fff" stroke="#9e0c2c" stroke-width="2.1"/>
<circle cx="366.3" cy="726.8" r="4.4" fill="#fff" stroke="#9e0c2c" stroke-width="2.1"/>
<circle cx="372.0" cy="745.0" r="4.4" fill="#fff" stroke="#9e0c2c" stroke-width="2.1"/>
<circle cx="383.6" cy="686.6" r="4.4" fill="#fff" stroke="#9e0c2c" stroke-width="2.1"/>
<circle cx="385.5" cy="740.4" r="4.4" fill="#fff" stroke="#9e0c2c" stroke-width="2.1"/>
<circle cx="388.0" cy="731.8" r="4.4" fill="#fff" stroke="#9e0c2c" stroke-width="2.1"/>
<circle cx="400.8" cy="736.3" r="4.4" fill="#fff" stroke="#9e0c2c" stroke-width="2.1"/>
<circle cx="423.9" cy="747.8" r="4.4" fill="#fff" stroke="#9e0c2c" stroke-width="2.1"/>
<circle cx="435.4" cy="747.8" r="4.4" fill="#fff" stroke="#9e0c2c" stroke-width="2.1"/>
<circle cx="449.3" cy="747.8" r="4.4" fill="#fff" stroke="#9e0c2c" stroke-width="2.1"/>
<circle cx="455.4" cy="747.7" r="4.4" fill="#fff" stroke="#9e0c2c" stroke-width="2.1"/>
<circle cx="468.0" cy="746.2" r="4.4" fill="#fff" stroke="#9e0c2c" stroke-width="2.1"/>
<circle cx="472.4" cy="747.8" r="4.4" fill="#fff" stroke="#9e0c2c" stroke-width="2.1"/>
<circle cx="488.5" cy="746.7" r="4.4" fill="#fff" stroke="#9e0c2c" stroke-width="2.1"/>
<path d="M343.8 498V584.5M343.8 594.6V735" fill="none" stroke="#2f4686" stroke-width="3.5"/>
<path d="M352.4 535V584.5M352.4 594.6V740" fill="none" stroke="#2f4686" stroke-width="3.5"/>
<path d="M339.8 738.0L343.6 729.4L344.0 594.6M344.0 584.5L344.4 498.1L343.5 584.5M343.5 594.6L342.7 751.5L341.7 743.8L345.3 714.5L346.4 621.7L344.7 680.4L349.6 686.0L347.5 735.2L349.4 741.9L351.8 594.6M351.8 584.5L353.3 535.1L353.6 584.5M353.6 594.6L353.9 692.8L354.6 708.9L357.1 735.2L358.0 740.0L360.9 747.7L362.0 669.9L364.8 735.2L369.4 706.4L370.0 696.5L373.4 741.0L372.5 748.7L383.7 649.0L390.4 739.7L398.0 732.3L414.6 747.8L419.3 738.1L427.3 745.5L433.8 738.6L451.6 601.2L456.2 747.8L465.0 746.0L483.2 741.3" fill="none" stroke="#1e2a5c" stroke-width="2.3" stroke-linejoin="round"/>
<rect x="335.6" y="733.8" width="8.4" height="8.4" fill="#fff" stroke="#161c40" stroke-width="2.4"/>
<rect x="339.4" y="725.2" width="8.4" height="8.4" fill="#fff" stroke="#161c40" stroke-width="2.4"/>
<rect x="340.2" y="493.9" width="8.4" height="8.4" fill="#fff" stroke="#161c40" stroke-width="2.4"/>
<rect x="338.5" y="747.3" width="8.4" height="8.4" fill="#fff" stroke="#161c40" stroke-width="2.4"/>
<rect x="337.5" y="739.6" width="8.4" height="8.4" fill="#fff" stroke="#161c40" stroke-width="2.4"/>
<rect x="341.1" y="710.3" width="8.4" height="8.4" fill="#fff" stroke="#161c40" stroke-width="2.4"/>
<rect x="342.2" y="617.5" width="8.4" height="8.4" fill="#fff" stroke="#161c40" stroke-width="2.4"/>
<rect x="340.5" y="676.2" width="8.4" height="8.4" fill="#fff" stroke="#161c40" stroke-width="2.4"/>
<rect x="345.4" y="681.8" width="8.4" height="8.4" fill="#fff" stroke="#161c40" stroke-width="2.4"/>
<rect x="343.3" y="731.0" width="8.4" height="8.4" fill="#fff" stroke="#161c40" stroke-width="2.4"/>
<rect x="345.2" y="737.7" width="8.4" height="8.4" fill="#fff" stroke="#161c40" stroke-width="2.4"/>
<rect x="349.1" y="530.9" width="8.4" height="8.4" fill="#fff" stroke="#161c40" stroke-width="2.4"/>
<rect x="349.7" y="688.6" width="8.4" height="8.4" fill="#fff" stroke="#161c40" stroke-width="2.4"/>
<rect x="350.4" y="704.7" width="8.4" height="8.4" fill="#fff" stroke="#161c40" stroke-width="2.4"/>
<rect x="352.9" y="731.0" width="8.4" height="8.4" fill="#fff" stroke="#161c40" stroke-width="2.4"/>
<rect x="353.8" y="735.8" width="8.4" height="8.4" fill="#fff" stroke="#161c40" stroke-width="2.4"/>
<rect x="356.7" y="743.5" width="8.4" height="8.4" fill="#fff" stroke="#161c40" stroke-width="2.4"/>
<rect x="357.8" y="665.7" width="8.4" height="8.4" fill="#fff" stroke="#161c40" stroke-width="2.4"/>
<rect x="360.6" y="731.0" width="8.4" height="8.4" fill="#fff" stroke="#161c40" stroke-width="2.4"/>
<rect x="365.2" y="702.2" width="8.4" height="8.4" fill="#fff" stroke="#161c40" stroke-width="2.4"/>
<rect x="365.8" y="692.3" width="8.4" height="8.4" fill="#fff" stroke="#161c40" stroke-width="2.4"/>
<rect x="369.2" y="736.8" width="8.4" height="8.4" fill="#fff" stroke="#161c40" stroke-width="2.4"/>
<rect x="368.3" y="744.5" width="8.4" height="8.4" fill="#fff" stroke="#161c40" stroke-width="2.4"/>
<rect x="379.5" y="644.8" width="8.4" height="8.4" fill="#fff" stroke="#161c40" stroke-width="2.4"/>
<rect x="386.2" y="735.5" width="8.4" height="8.4" fill="#fff" stroke="#161c40" stroke-width="2.4"/>
<rect x="393.8" y="728.1" width="8.4" height="8.4" fill="#fff" stroke="#161c40" stroke-width="2.4"/>
<rect x="410.4" y="743.6" width="8.4" height="8.4" fill="#fff" stroke="#161c40" stroke-width="2.4"/>
<rect x="415.1" y="733.9" width="8.4" height="8.4" fill="#fff" stroke="#161c40" stroke-width="2.4"/>
<rect x="423.1" y="741.3" width="8.4" height="8.4" fill="#fff" stroke="#161c40" stroke-width="2.4"/>
<rect x="429.6" y="734.4" width="8.4" height="8.4" fill="#fff" stroke="#161c40" stroke-width="2.4"/>
<rect x="447.4" y="597.0" width="8.4" height="8.4" fill="#fff" stroke="#161c40" stroke-width="2.4"/>
<rect x="452.0" y="743.6" width="8.4" height="8.4" fill="#fff" stroke="#161c40" stroke-width="2.4"/>
<rect x="460.8" y="741.8" width="8.4" height="8.4" fill="#fff" stroke="#161c40" stroke-width="2.4"/>
<rect x="479.0" y="737.1" width="8.4" height="8.4" fill="#fff" stroke="#161c40" stroke-width="2.4"/>
<rect x="72.5" y="737" width="19" height="8.5" fill="#2d4580"/>
<rect x="74.5" y="739" width="2.5" height="5" fill="#fff"/><rect x="81" y="739.5" width="2" height="4" fill="#fff"/><rect x="86" y="738.5" width="3" height="2" fill="#fff"/>
<line x1="80.4" y1="585.9" x2="90.4" y2="582.6" stroke="#111" stroke-width="2.8"/>
<line x1="81.9" y1="595.6" x2="91.9" y2="592.4" stroke="#111" stroke-width="2.8"/>
<line x1="348.1" y1="588.0" x2="359.1" y2="584.4" stroke="#111" stroke-width="2.8"/>
<line x1="348.6" y1="595.9" x2="358.6" y2="592.6" stroke="#111" stroke-width="2.8"/>
</svg>
</body></html>
